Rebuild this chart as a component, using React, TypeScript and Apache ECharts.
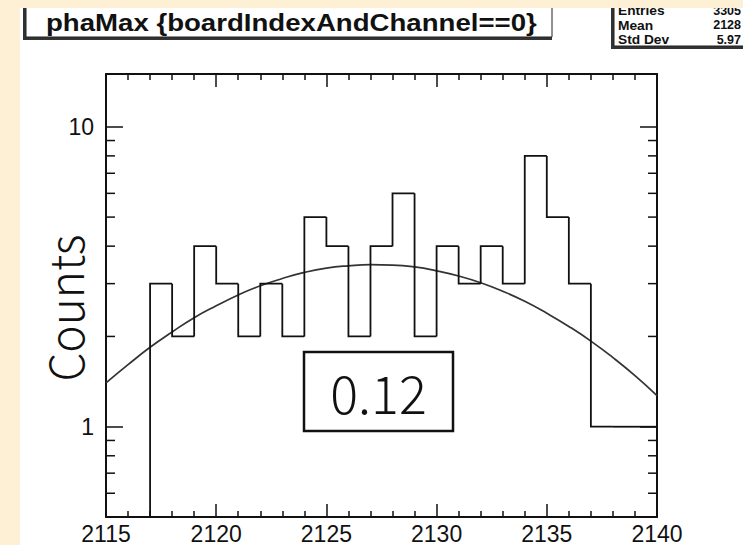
import React, { useEffect, useRef } from 'react';
import * as echarts from 'echarts';

const X_MIN = 2115;
const X_MAX = 2140;
const X_INTERVAL = 5;
const Y_MIN = 0.5;
const Y_MAX = 15;
const BIN_WIDTH = 1;

const BIN_LEFT = [
  2115, 2116, 2117, 2118, 2119, 2120, 2121, 2122, 2123, 2124, 2125, 2126, 2127,
  2128, 2129, 2130, 2131, 2132, 2133, 2134, 2135, 2136, 2137, 2138, 2139,
];
const BIN_COUNTS = [0, 0, 3, 2, 4, 3, 2, 3, 2, 5, 4, 2, 4, 6, 2, 4, 3, 4, 3, 8, 5, 3, 1, 1, 1];

const FIT_X = [
  2115, 2116, 2117, 2118, 2119, 2120, 2121, 2122, 2123, 2124, 2125, 2126, 2127,
  2128, 2129, 2130, 2131, 2132, 2133, 2134, 2135, 2136, 2137, 2138, 2139, 2140,
];
const FIT_Y = [
  1.40, 1.61, 1.84, 2.07, 2.31, 2.53, 2.75, 2.95, 3.12, 3.27, 3.38, 3.44, 3.47,
  3.46, 3.41, 3.31, 3.18, 3.02, 2.83, 2.62, 2.39, 2.16, 1.93, 1.70, 1.48, 1.27,
];

const Y_MINOR_TICKS = [0.6, 0.7, 0.8, 0.9, 2, 3, 4, 5, 6, 7, 8, 9];

const TITLE = 'phaMax {boardIndexAndChannel==0}';
const STATS_LABELS = ['Entries', 'Mean', 'Std Dev'];
const STATS_VALUES = ['3305', '2128', '5.97'];
const BOX_TEXT = '0.12';
const Y_NAME = 'Counts';

const INK = '#111';
const BEIGE = '#fdf0d5';

export default function App() {
  const ref = useRef<HTMLDivElement>(null);

  useEffect(() => {
    if (!ref.current) return;
    const chart = echarts.init(ref.current, null, { renderer: 'svg' });

    const axisLine = { show: true, lineStyle: { color: INK, width: 2 } };
    const xTick = { show: true, inside: true, length: 13, lineStyle: { color: INK, width: 1.5 } };
    const xMinor = { show: true, splitNumber: 5, length: 6, lineStyle: { color: INK, width: 1.5 } };
    const yTick = { show: true, inside: true, length: 17, lineStyle: { color: INK, width: 1.5 } };
    const isDecade = (v: number) => Math.abs(Math.log10(v) - Math.round(Math.log10(v))) < 1e-6;

    const statsGraphics: any[] = [];
    STATS_LABELS.forEach((lab, i) => {
      statsGraphics.push({
        type: 'text', x: 618, y: 11 + i * 14.3, z: 12, scaleX: 1.1,
        style: { text: lab, fill: INK, font: 'bold 12.5px "Liberation Sans", Arial', align: 'left', verticalAlign: 'middle' },
      });
      statsGraphics.push({
        type: 'text', x: 741, y: 11 + i * 14.3, z: 12,
        style: { text: STATS_VALUES[i], fill: INK, font: 'bold 12.5px "Liberation Sans", Arial', align: 'right', verticalAlign: 'middle' },
      });
    });

    const option: any = {
      animation: false,
      backgroundColor: BEIGE,
      grid: { left: 106, right: 86, top: 74, bottom: 24, containLabel: false },
      xAxis: [
        {
          type: 'value', min: X_MIN, max: X_MAX, interval: X_INTERVAL, position: 'bottom',
          axisLine, axisTick: xTick, minorTick: xMinor,
          axisLabel: {
            color: INK, fontSize: 23, fontFamily: '"Liberation Sans", Arial', margin: 5,
            formatter: (v: number) => String(v),
          },
          splitLine: { show: false }, minorSplitLine: { show: false },
        },
        {
          type: 'value', min: X_MIN, max: X_MAX, interval: X_INTERVAL, position: 'top',
          axisLine, axisTick: xTick, minorTick: xMinor,
          axisLabel: { show: false },
          splitLine: { show: false }, minorSplitLine: { show: false },
        },
      ],
      yAxis: [
        {
          type: 'log', logBase: 10, min: Y_MIN, max: Y_MAX, position: 'left',
          axisLine, axisTick: yTick,
          axisLabel: {
            color: INK, fontSize: 23, fontFamily: '"Liberation Sans", Arial', margin: 12,
            formatter: (v: number) => (isDecade(v) ? String(Math.round(v)) : ''),
          },
          splitLine: { show: false },
        },
        {
          type: 'log', logBase: 10, min: Y_MIN, max: Y_MAX, position: 'right',
          axisLine, axisTick: yTick,
          axisLabel: { show: false },
          splitLine: { show: false },
        },
      ],
      series: [
        {
          type: 'custom',
          xAxisIndex: 0, yAxisIndex: 0,
          data: Y_MINOR_TICKS.map((v) => [X_MIN, v]),
          encode: { x: 0, y: 1 },
          silent: true,
          renderItem: (params: any, api: any) => {
            const v = api.value(1);
            const l = api.coord([X_MIN, v]);
            const r = api.coord([X_MAX, v]);
            return {
              type: 'group',
              children: [
                { type: 'line', shape: { x1: l[0], y1: l[1], x2: l[0] + 9, y2: l[1] }, style: { stroke: INK, lineWidth: 1.5 } },
                { type: 'line', shape: { x1: r[0] - 9, y1: r[1], x2: r[0], y2: r[1] }, style: { stroke: INK, lineWidth: 1.5 } },
              ],
            };
          },
        },
        {
          type: 'custom',
          xAxisIndex: 0, yAxisIndex: 0,
          data: BIN_LEFT.map((x, i) => [x, BIN_COUNTS[i]]),
          encode: { x: 0, y: 1 },
          silent: true,
          z: 4,
          renderItem: (params: any, api: any) => {
            const i = params.dataIndex;
            const x0 = api.value(0);
            const v = Math.max(api.value(1), Y_MIN);
            const prev = Math.max(i > 0 ? BIN_COUNTS[i - 1] : 0, Y_MIN);
            const pPrev = api.coord([x0, prev]);
            const pL = api.coord([x0, v]);
            const pR = api.coord([x0 + BIN_WIDTH, v]);
            return {
              type: 'polyline',
              shape: { points: [pPrev, pL, pR] },
              style: { stroke: INK, lineWidth: 1.8, fill: null },
            };
          },
        },
        {
          type: 'line',
          xAxisIndex: 0, yAxisIndex: 0,
          data: FIT_X.map((x, i) => [x, FIT_Y[i]]),
          smooth: true,
          showSymbol: false,
          silent: true,
          z: 3,
          lineStyle: { color: '#333', width: 1.7 },
        },
      ],
      graphic: [
        { type: 'rect', z: -5, shape: { x: 20, y: 8, width: 723, height: 537 }, style: { fill: '#fff' } },
        // title box
        { type: 'rect', z: 10, shape: { x: 23, y: 0, width: 529, height: 40 }, style: { fill: '#333' } },
        { type: 'rect', z: 11, shape: { x: 26, y: -2, width: 526, height: 39 }, style: { fill: '#fff', stroke: '#222', lineWidth: 1 } },
        {
          type: 'text', x: 46, y: 23, z: 12, scaleX: 1.15,
          style: { text: TITLE, fill: INK, font: 'bold 24px "Liberation Sans", Arial', align: 'left', verticalAlign: 'middle' },
        },
        // stats box
        { type: 'rect', z: 10, shape: { x: 611, y: 0, width: 150, height: 49 }, style: { fill: '#333' } },
        { type: 'rect', z: 11, shape: { x: 614, y: -2, width: 150, height: 48 }, style: { fill: '#fff', stroke: '#222', lineWidth: 1 } },
        ...statsGraphics,
        // top beige strip
        { type: 'rect', z: 50, shape: { x: 0, y: 0, width: 743, height: 8 }, style: { fill: BEIGE } },
        // y axis name
        {
          type: 'text', x: 64, y: 308, rotation: Math.PI / 2, z: 12,
          style: { text: Y_NAME, fill: INK, font: '300 46px "Noto Sans CJK JP", "Noto Sans", sans-serif', align: 'center', verticalAlign: 'middle' },
        },
        // value box
        { type: 'rect', z: 12, shape: { x: 304, y: 352, width: 149, height: 79 }, style: { fill: '#fff', stroke: INK, lineWidth: 2.5 } },
        {
          type: 'text', x: 378.5, y: 391, z: 13,
          style: { text: BOX_TEXT, fill: INK, font: '300 52px "Noto Sans CJK JP", "Noto Sans", sans-serif', align: 'center', verticalAlign: 'middle' },
        },
      ],
    };

    chart.setOption(option);
    return () => chart.dispose();
  }, []);

  return (
    <div
      ref={ref}
      style={{ position: 'fixed', left: 0, top: 0, width: 743, height: 545 }}
    />
  );
}
